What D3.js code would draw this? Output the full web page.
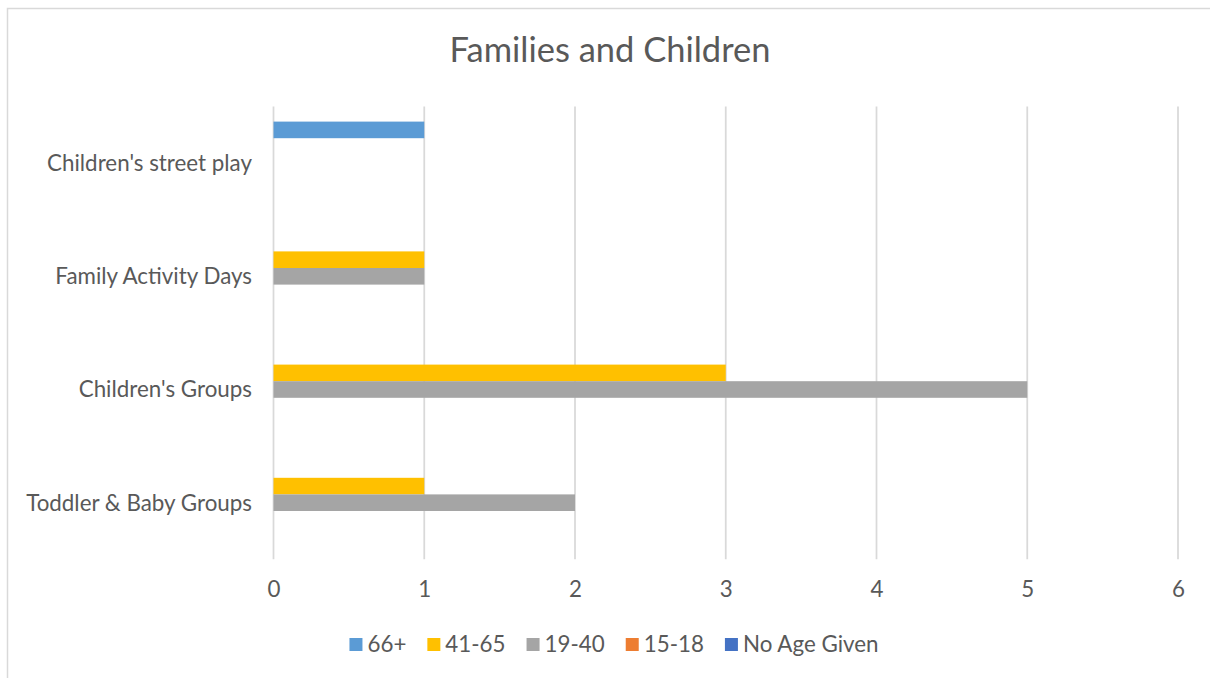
<!DOCTYPE html>
<html><head><meta charset="utf-8">
<script src="https://cdn.jsdelivr.net/npm/d3@7"></script>
<style>
body{margin:0;background:#fff}
svg{display:block}
text{font-family:Lato,"Open Sans",sans-serif;fill:#595959}
</style>
</head><body>
<svg id="c" width="1210" height="678"></svg>
<script>
// ---- data ----
const categories = ["Children's street play", "Family Activity Days", "Children's Groups", "Toddler & Baby Groups"];
const seriesNames = ["66+", "41-65", "19-40", "15-18", "No Age Given"];
const values66plus = [1, 0, 0, 0];
const values41to65 = [0, 1, 3, 1];
const values19to40 = [0, 1, 5, 2];
const values15to18 = [0, 0, 0, 0];
const valuesNoAge = [0, 0, 0, 0];
const xTickValues = [0, 1, 2, 3, 4, 5, 6];
const seriesColors = ["#5B9BD5", "#FFC000", "#A5A5A5", "#ED7D31", "#4472C4"];
const titleText = "Families and Children";

const seriesValues = [values66plus, values41to65, values19to40, values15to18, valuesNoAge];

const svg = d3.select("#c");

// font scale: fit Lato to Calibri-like widths
const probe = svg.append("text").attr("font-size", 24).text("Children's street play");
const fs = 24 * 205 / probe.node().getComputedTextLength();
probe.remove();

// chart border
svg.append("rect").attr("x", 7.5).attr("y", 8.5).attr("width", 1220).attr("height", 700)
  .attr("fill", "none").attr("stroke", "#d9d9d9").attr("stroke-width", 1.5);

const x = d3.scaleLinear().domain([0, 6]).range([273.5, 1178]);
const y = d3.scaleBand().domain(categories).range([106.5, 559.3]).padding(0);
const yInner = d3.scaleBand().domain(seriesNames).range([-41.5, 41.5]).padding(0);

// gridlines
svg.append("g").selectAll("line").data(xTickValues).join("line")
  .attr("x1", d => x(d)).attr("x2", d => x(d))
  .attr("y1", 106.5).attr("y2", 559.3)
  .attr("stroke", "#d9d9d9").attr("stroke-width", 1.75);

// bars
const rows = [];
seriesNames.forEach((s, si) => {
  categories.forEach((c, ci) => rows.push({s, c, v: seriesValues[si][ci], color: seriesColors[si]}));
});
svg.append("g").selectAll("rect").data(rows.filter(r => r.v > 0)).join("rect")
  .attr("x", x(0))
  .attr("y", d => y(d.c) + y.bandwidth() / 2 + yInner(d.s))
  .attr("width", d => x(d.v) - x(0))
  .attr("height", yInner.bandwidth())
  .attr("fill", d => d.color);

// x tick labels
const xAxis = d3.axisBottom(x).tickValues(xTickValues).tickSize(0).tickPadding(0).tickFormat(d3.format("d"));
const gx = svg.append("g").attr("transform", "translate(0,580)").call(xAxis);
gx.select(".domain").remove();
gx.selectAll("text").attr("font-size", fs).attr("fill", "#595959").attr("font-family", "Lato,'Open Sans',sans-serif")
  .attr("dy", "0.75em");

// y category labels
const yAxis = d3.axisLeft(y).tickSize(0).tickPadding(0);
const gy = svg.append("g").attr("transform", "translate(252,0)").call(yAxis);
gy.select(".domain").remove();
gy.selectAll("text").attr("font-size", fs).attr("fill", "#595959").attr("font-family", "Lato,'Open Sans',sans-serif")
  .attr("dy", "0.35em");

// title
svg.append("text").attr("x", 610).attr("y", 62).attr("text-anchor", "middle")
  .attr("font-size", fs * 37 / 24).text(titleText);

// legend
const lg = svg.append("g");
let cx = 0;
const gap = 21;
seriesNames.forEach((s, i) => {
  const g = lg.append("g").attr("transform", `translate(${cx},0)`);
  g.append("rect").attr("x", 0).attr("y", 638).attr("width", 13).attr("height", 13).attr("fill", seriesColors[i]);
  const t = g.append("text").attr("x", 18).attr("y", 652).attr("font-size", fs).text(s);
  cx += 18 + t.node().getComputedTextLength() + gap;
});
const lw = cx - gap;
lg.attr("transform", `translate(${614 - lw / 2},0)`);
</script>
</body></html>
